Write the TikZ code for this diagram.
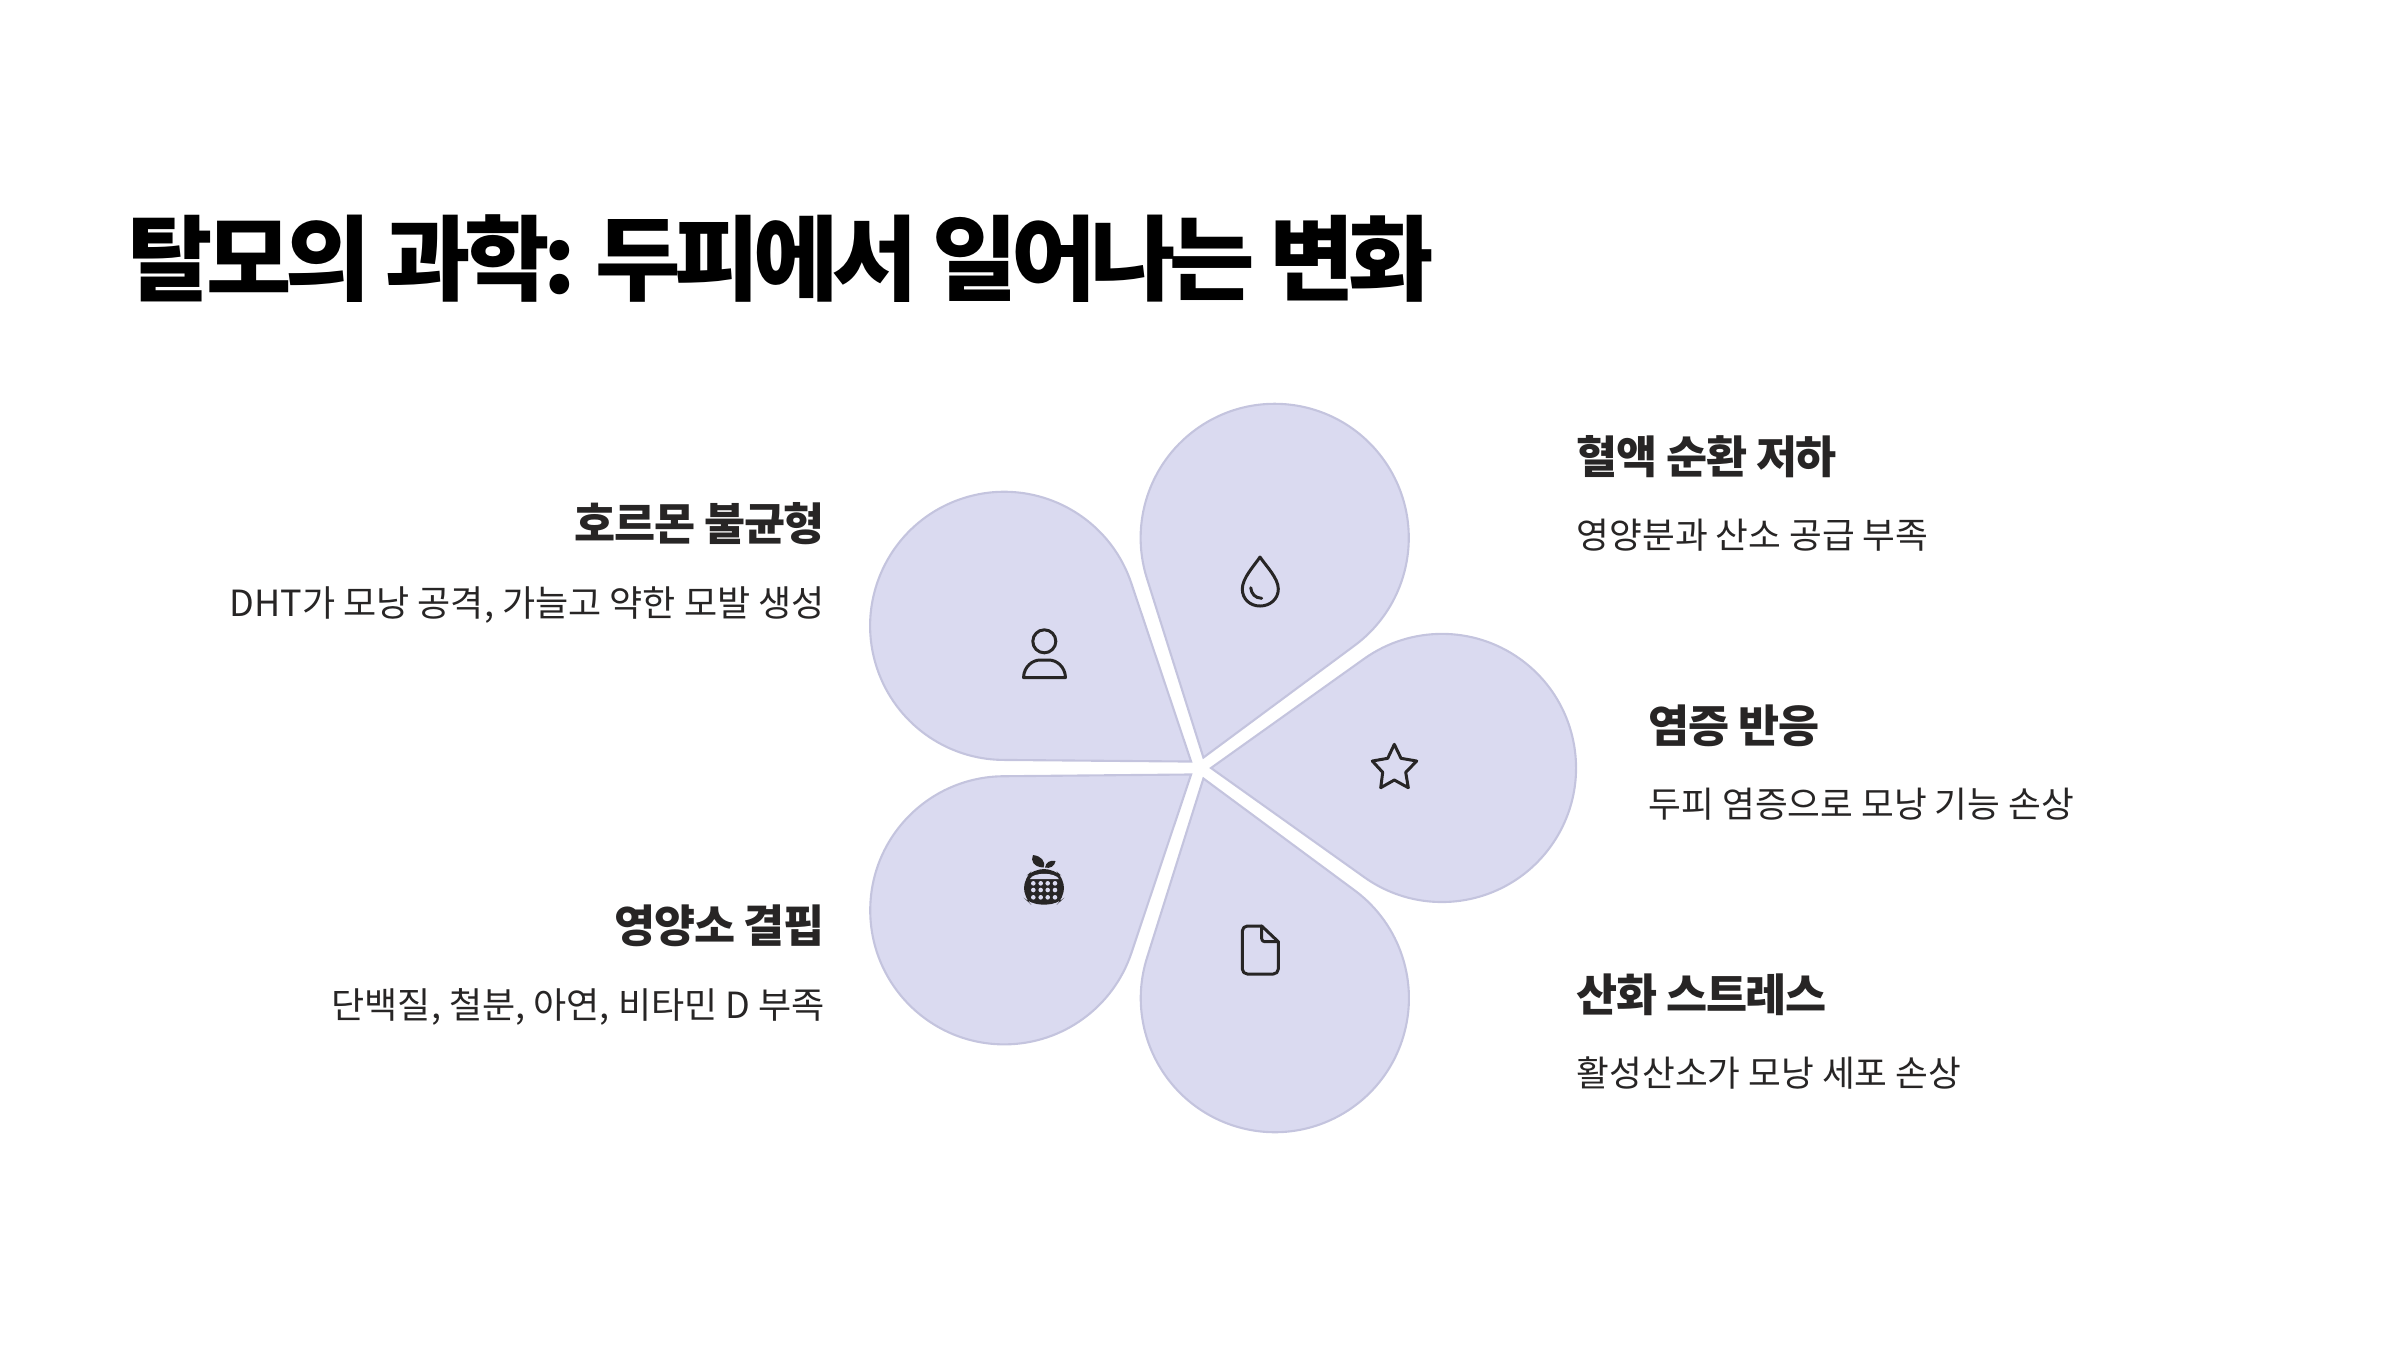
\documentclass[tikz,border=0pt]{standalone}
\usepackage{fontspec}
\setmainfont{Noto Sans CJK KR}
\newfontfamily\titlefont[LetterSpace=-7]{Noto Sans CJK KR}
\newfontfamily\headfont[LetterSpace=-3]{Noto Sans CJK KR}
\definecolor{petalfill}{HTML}{DADAF0}
\definecolor{petalline}{HTML}{C4C4DE}
\definecolor{inkdark}{HTML}{272525}
\tikzset{
  titletext/.style={anchor=base west,inner sep=0pt,text=black,font=\titlefont\bfseries\fontsize{26.4pt}{30pt}\selectfont},
  headtext/.style={inner sep=0pt,text=inkdark,font=\headfont\bfseries\fontsize{12.7pt}{15pt}\selectfont},
  desctext/.style={inner sep=0pt,text=inkdark,font=\fontsize{10.13pt}{13pt}\selectfont},
  descleft/.style={inner sep=0pt,text=inkdark,font=\fontsize{10.25pt}{13pt}\selectfont},
  petal/.style={fill=petalfill,draw=petalline,line width=0.6pt},
  iconline/.style={draw=inkdark,line width=0.85pt,line join=round,line cap=round},
}
\begin{document}
\begin{tikzpicture}[x=0.01cm,y=-0.01cm]
  \useasboundingbox (0,0) rectangle (2400,1350);
  \node[titletext] (title) at (127,293) {탈모의 과학: 두피에서 일어나는 변화};

  % five petals round the middle
  \foreach \ang in {0,72,144,216,288} {
    \begin{scope}[shift={(1200,768)},y=0.01cm,rotate=\ang]
      \path[petal] (11,0) -- (164.3,-109.2) arc[start angle=234.6,end angle=485.4,radius=1.34cm] -- cycle;
    \end{scope}
  }

  % labels on the right
  \node[headtext,anchor=base west] (blood) at (1576,473.5) {혈액 순환 저하};
  \node[desctext,anchor=base west] (blooddesc) at (1576,548.5) {영양분과 산소 공급 부족};
  \node[headtext,anchor=base west] (inflam) at (1648,742.5) {염증 반응};
  \node[desctext,anchor=base west] (inflamdesc) at (1648,817.5) {두피 염증으로 모낭 기능 손상};
  \node[headtext,anchor=base west] (oxid) at (1576,1011.5) {산화 스트레스};
  \node[desctext,anchor=base west] (oxiddesc) at (1576,1086.5) {활성산소가 모낭 세포 손상};

  % labels on the left
  \node[headtext,anchor=base east] (hormone) at (825.5,540.5) {호르몬 불균형};
  \node[descleft,anchor=base east] (hormonedesc) at (825.5,616.5) {DHT가 모낭 공격, 가늘고 약한 모발 생성};
  \node[headtext,anchor=base east] (nutrient) at (825.5,942.5) {영양소 결핍};
  \node[descleft,anchor=base east] (nutrientdesc) at (825.5,1018.5) {단백질, 철분, 아연, 비타민 D 부족};

  % person
  \draw[iconline] (1044.3,641.3) circle (0.115cm);
  \draw[iconline] (1023.5,677.5) .. controls (1024,666) and (1033,660) .. (1040,660) -- (1049,660) .. controls (1056,660) and (1065,666) .. (1065.5,677.5) -- cycle;
  % drop
  \draw[iconline] (1260,557) .. controls (1254,566) and (1242.3,578) .. (1242.3,589) .. controls (1242.3,599) and (1250,606) .. (1260,606) .. controls (1270,606) and (1278.3,599) .. (1278.3,589) .. controls (1278.3,578) and (1266,566) .. (1260,557) -- cycle;
  \draw[iconline] (1250.7,587.7) .. controls (1251.5,594) and (1255,598) .. (1261.7,598.3);
  % star
  \draw[iconline] (1394.3,744.3) -- (1401,758.3) -- (1416.7,761) -- (1405.7,772.3) -- (1408.3,787.7) -- (1394.3,780) -- (1380.7,787.7) -- (1382.7,772.3) -- (1372.3,761) -- (1387.7,758.3) -- cycle;
  % page
  \draw[iconline,rounded corners=0.05cm] (1261.7,926) -- (1242.3,926) -- (1242.3,974) -- (1278.3,974) -- (1278.3,941.7);
  \draw[iconline] (1261.7,926) -- (1278.3,941.7);
  \draw[iconline,rounded corners=0.03cm] (1261.7,926) -- (1261.7,941.7) -- (1278.3,941.7);
  % fruit
  \fill[inkdark,rounded corners=0.1cm] (1034,869) -- (1054,869) -- (1064,878) -- (1064,898) -- (1057,904.5) -- (1031,904.5) -- (1024,898) -- (1024,878) -- cycle;
  \fill[petalfill] (1030,879) .. controls (1033,872) and (1055,872) .. (1059,879) -- cycle;
  \fill[inkdark] (1043.5,867.5) .. controls (1034,867) and (1030,861) .. (1033,855) .. controls (1041,856) and (1046,861) .. (1043.5,867.5) -- cycle;
  \fill[inkdark] (1045,867.5) .. controls (1046,862) and (1050,860) .. (1055.5,861) .. controls (1055,866) and (1050,869) .. (1045,867.5) -- cycle;
  \foreach \px in {1033.3,1040.7,1047.7,1055} {
    \foreach \py in {883.3,890,897.3} {
      \fill[petalfill] (\px,\py) circle (0.023cm);
    }
  }
\end{tikzpicture}
\end{document}
